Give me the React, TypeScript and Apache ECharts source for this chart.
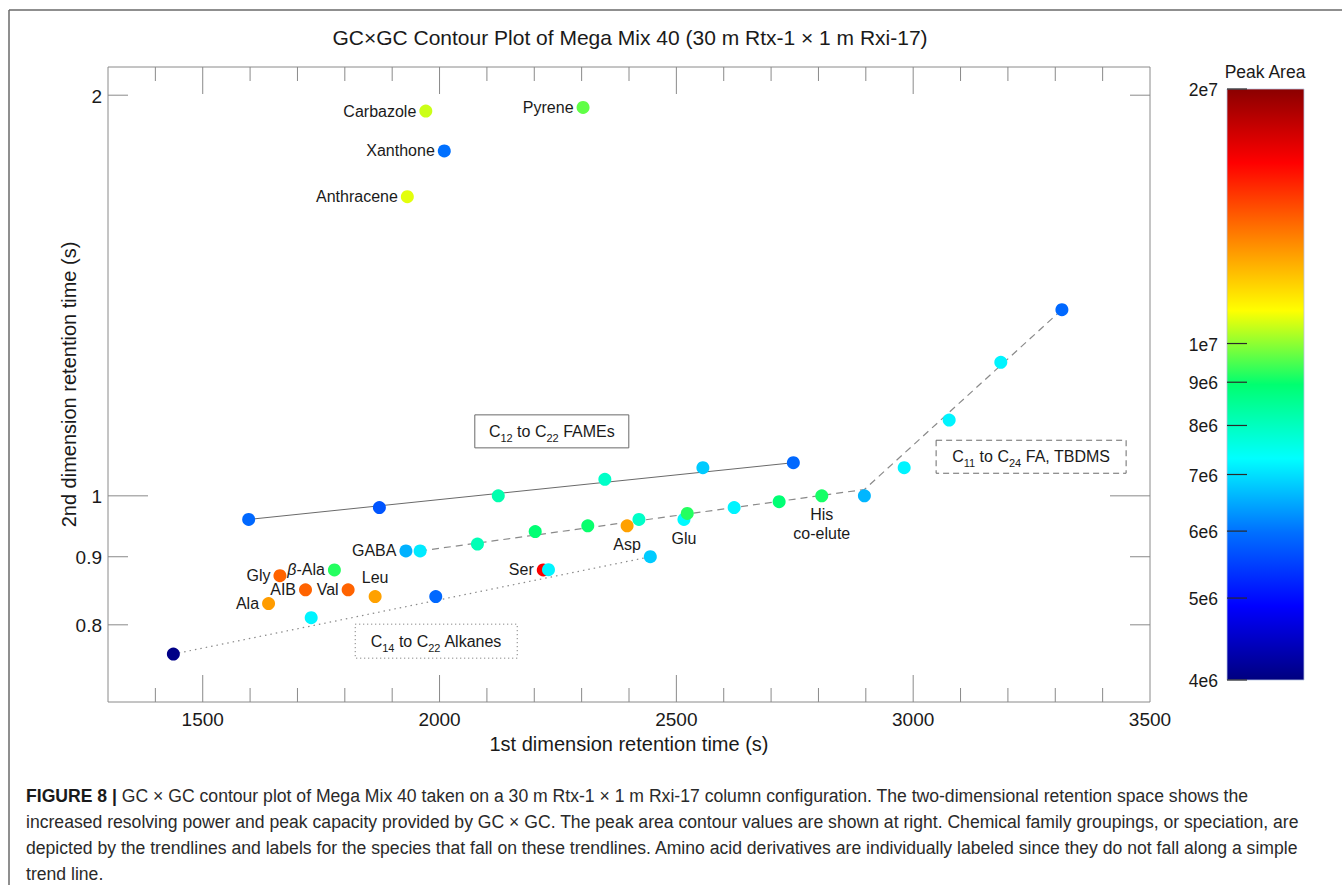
import React, { useEffect, useRef } from "react";
import * as echarts from "echarts";

const FONT = "'Liberation Sans', Arial, Helvetica, sans-serif";
const TXT = "#1a1a1a";
const TICK = "#8a8a8a";

// ---- axis ranges & ticks ----
const X_MIN = 1300;
const X_MAX = 3500;
const Y_MIN = 0.7;
const Y_MAX = 2.1;
const xMajorTicks = [1500, 2000, 2500, 3000, 3500];
const yTickValues = [0.8, 0.9, 1, 2];
const yTickLabels = ["0.8", "0.9", "1", "2"];
const yMajorTicks = [1];

// ---- colour bar ----
const CB_MIN = 4e6;
const CB_MAX = 2e7;
const cbTickValues = [4e6, 5e6, 6e6, 7e6, 8e6, 9e6, 1e7, 2e7];
const cbTickLabels = ["4e6", "5e6", "6e6", "7e6", "8e6", "9e6", "1e7", "2e7"];
const jetColors = ["#00007f", "#0000ff", "#0070ff", "#00ffff", "#00ff70", "#ffff00", "#ff8000", "#ff0000", "#8b0000"];

// ---- aromatics ----
const aromaticNames = ["Carbazole", "Pyrene", "Xanthone", "Anthracene"];
const aromaticX = [1971, 2303, 2010, 1932];
const aromaticY = [1.946, 1.958, 1.816, 1.678];
const aromaticArea = [1.05e7, 9.65e6, 5.98e6, 1.07e7];

// ---- FAMEs ----
const fameX = [1597, 1873, 2124, 2349, 2556, 2747];
const fameY = [0.96, 0.98, 1.0, 1.029, 1.05, 1.059];
const fameArea = [5.9e6, 5.7e6, 8.2e6, 7.9e6, 6.8e6, 5.9e6];

// ---- FA, TBDMS ----
const faX = [1959, 2080, 2202, 2313, 2421, 2523, 2622, 2717, 2807, 2897, 2981, 3076, 3185, 3314];
const faY = [0.909, 0.92, 0.94, 0.9495, 0.96, 0.97, 0.98, 0.99, 1.0, 1.0, 1.05, 1.14, 1.26, 1.38];
const faArea = [7.1e6, 8.1e6, 8.9e6, 9.0e6, 7.9e6, 9.2e6, 7.2e6, 8.9e6, 9.1e6, 6.6e6, 7.2e6, 7.2e6, 7.2e6, 5.9e6];
const faLabels = ["", "", "", "", "", "", "", "", "His\nco-elute", "", "", "", "", ""];

// ---- alkanes ----
const alkaneX = [1438, 1729, 1992, 2230, 2445];
const alkaneY = [0.7605, 0.81, 0.84, 0.88, 0.9];
const alkaneArea = [4.05e6, 7.2e6, 5.9e6, 7.2e6, 6.8e6];

// ---- amino acids ----
const aminoNames = ["Gly", "{i|β}-Ala", "AIB", "Val", "Leu", "Ala", "GABA", "Ser", "Asp", "Glu"];
const aminoX = [1663, 1778, 1717, 1807, 1864, 1639, 1929, 2219, 2396, 2516];
const aminoY = [0.871, 0.8796, 0.85, 0.85, 0.84, 0.83, 0.909, 0.8796, 0.9495, 0.96];
const aminoArea = [1.4e7, 9.2e6, 1.4e7, 1.4e7, 1.27e7, 1.28e7, 6.55e6, 1.64e7, 1.27e7, 7.26e6];
const aminoLabelPos = ["left", "left", "left", "left", "top", "left", "left", "left", "bottom", "bottom"];

// ---- trend lines ----
const fameTrend = [[1597, 0.96], [2747, 1.059]];
const faTrend = [[1959, 0.909], [2897, 1.011], [3314, 1.38]];
const alkaneTrend = [[1438, 0.7605], [2445, 0.9]];

// ---- annotation boxes ----
const boxTexts = ["C{s|12} to C{s|22} FAMEs", "C{s|11} to C{s|24} FA, TBDMS", "C{s|14} to C{s|22} Alkanes"];
const boxX = [2237, 3249, 1993];
const boxY = [1.118, 1.07, 0.7777];
const boxW = [154, 190, 162];
const boxH = [33, 33, 34];
const boxDash: (number[] | null)[] = [null, [6, 4], [1, 3]];

// ---- caption ----
const captionLines = [
  "{b|FIGURE 8 |} GC × GC contour plot of Mega Mix 40 taken on a 30 m Rtx-1 × 1 m Rxi-17 column configuration. The two-dimensional retention space shows the",
  "increased resolving power and peak capacity provided by GC × GC. The peak area contour values are shown at right. Chemical family groupings, or speciation, are",
  "depicted by the trendlines and labels for the species that fall on these trendlines. Amino acid derivatives are individually labeled since they do not fall along a simple",
  "trend line.",
];

const labelBase = { color: TXT, fontSize: 16, fontFamily: FONT };

function scatterData(xs: number[], ys: number[], areas: number[], labels?: string[], pos?: string[]) {
  return xs.map((x, i) => {
    const item: any = { value: [x, ys[i], Math.log10(areas[i])] };
    if (labels && labels[i]) {
      item.label = {
        show: true,
        formatter: labels[i],
        position: pos ? pos[i] : "left",
        distance: 3,
        ...labelBase,
        lineHeight: 19,
        align: pos && (pos[i] === "top" || pos[i] === "bottom") ? "center" : undefined,
        rich: { i: { ...labelBase, fontStyle: "italic" } },
      };
    }
    return item;
  });
}

export default function App() {
  const ref = useRef<HTMLDivElement>(null);
  useEffect(() => {
    document.body.style.margin = "0";
    if (!ref.current) return;
    const chart = echarts.init(ref.current, undefined, { renderer: "svg" });

    const xMinor: number[] = [];
    for (let v = X_MIN + 100; v < X_MAX; v += 100) xMinor.push(v);

    const scatterCommon = {
      type: "scatter",
      symbolSize: 13,
      xAxisIndex: 0,
      yAxisIndex: 0,
      itemStyle: { opacity: 1 },
    };
    const lineCommon = {
      type: "line",
      xAxisIndex: 0,
      yAxisIndex: 0,
      symbol: "none",
      silent: true,
      z: 1,
    };

    const series: any[] = [
      { ...lineCommon, data: fameTrend, lineStyle: { color: "#6a6a6a", width: 1, type: "solid" } },
      { ...lineCommon, data: faTrend, lineStyle: { color: "#8a8a8a", width: 1.2, type: [7, 5] } },
      { ...lineCommon, data: alkaneTrend, lineStyle: { color: "#8a8a8a", width: 1.2, type: [1.5, 4] } },
      { ...scatterCommon, name: "Amino acids", data: scatterData(aminoX, aminoY, aminoArea, aminoNames, aminoLabelPos) },
      { ...scatterCommon, name: "Alkanes", data: scatterData(alkaneX, alkaneY, alkaneArea) },
      { ...scatterCommon, name: "FA TBDMS", data: scatterData(faX, faY, faArea, faLabels, faLabels.map(() => "bottom")) },
      { ...scatterCommon, name: "FAMEs", data: scatterData(fameX, fameY, fameArea) },
      { ...scatterCommon, name: "Aromatics", data: scatterData(aromaticX, aromaticY, aromaticArea, aromaticNames) },
    ];
    const scatterIdx = [3, 4, 5, 6, 7];

    // x ticks (bottom + top)
    series.push({
      type: "custom",
      xAxisIndex: 0,
      yAxisIndex: 0,
      silent: true,
      z: 5,
      data: xMinor.map((v) => [v, Y_MIN]),
      renderItem: (_p: any, api: any) => {
        const v = api.value(0);
        const len = xMajorTicks.indexOf(v) >= 0 ? 27 : 14;
        const b = api.coord([v, Y_MIN]);
        const t = api.coord([v, Y_MAX]);
        return {
          type: "group",
          children: [
            { type: "line", shape: { x1: b[0], y1: b[1], x2: b[0], y2: b[1] - len }, style: { stroke: TICK, lineWidth: 1 } },
            { type: "line", shape: { x1: t[0], y1: t[1], x2: t[0], y2: t[1] + len }, style: { stroke: TICK, lineWidth: 1 } },
          ],
        };
      },
    });

    // y ticks (left + right) with labels
    series.push({
      type: "custom",
      xAxisIndex: 0,
      yAxisIndex: 0,
      silent: true,
      z: 5,
      data: yTickValues.map((v) => [X_MIN, v]),
      renderItem: (p: any, api: any) => {
        const v = api.value(1);
        const len = yMajorTicks.indexOf(v) >= 0 ? 40 : 20;
        const l = api.coord([X_MIN, v]);
        const r = api.coord([X_MAX, v]);
        return {
          type: "group",
          children: [
            { type: "line", shape: { x1: l[0], y1: l[1], x2: l[0] + len, y2: l[1] }, style: { stroke: TICK, lineWidth: 1 } },
            { type: "line", shape: { x1: r[0], y1: r[1], x2: r[0] - len, y2: r[1] }, style: { stroke: TICK, lineWidth: 1 } },
            {
              type: "text",
              x: l[0] - 6,
              y: l[1] + 1,
              style: { text: yTickLabels[p.dataIndex], align: "right", verticalAlign: "middle", fontSize: 19, fontFamily: FONT, fill: TXT },
            },
          ],
        };
      },
    });

    // annotation boxes
    series.push({
      type: "custom",
      xAxisIndex: 0,
      yAxisIndex: 0,
      silent: true,
      z: 6,
      data: boxX.map((x, i) => [x, boxY[i]]),
      renderItem: (p: any, api: any) => {
        const i = p.dataIndex;
        const c = api.coord([api.value(0), api.value(1)]);
        return {
          type: "group",
          children: [
            {
              type: "rect",
              shape: { x: c[0] - boxW[i] / 2, y: c[1] - boxH[i] / 2, width: boxW[i], height: boxH[i] },
              style: { fill: "none", stroke: "#6a6a6a", lineWidth: 1, lineDash: boxDash[i] || undefined },
            },
            {
              type: "text",
              x: c[0],
              y: c[1],
              style: {
                text: boxTexts[i],
                align: "center",
                verticalAlign: "middle",
                fontSize: 16,
                fontFamily: FONT,
                fill: TXT,
                lineHeight: 24,
                rich: {
                  s: { fontSize: 11, fontFamily: FONT, fill: TXT, verticalAlign: "bottom", lineHeight: 14 },
                },
              },
            },
          ],
        };
      },
    });

    // colour bar
    const stops = jetColors.map((c, i) => ({ offset: i / (jetColors.length - 1), color: c }));
    series.push({
      type: "custom",
      xAxisIndex: 1,
      yAxisIndex: 1,
      silent: true,
      z: 2,
      data: [[0, CB_MAX]],
      renderItem: (_p: any, api: any) => {
        const t = api.coord([0, CB_MAX]);
        const b = api.coord([1, CB_MIN]);
        return {
          type: "rect",
          shape: { x: t[0], y: t[1], width: b[0] - t[0], height: b[1] - t[1] },
          style: { fill: new echarts.graphic.LinearGradient(0, 1, 0, 0, stops), stroke: "#b8c4e0", lineWidth: 0.8 },
        };
      },
    });
    series.push({
      type: "custom",
      xAxisIndex: 1,
      yAxisIndex: 1,
      silent: true,
      z: 3,
      data: cbTickValues.map((v) => [0, v]),
      renderItem: (p: any, api: any) => {
        const l = api.coord([0, api.value(1)]);
        return {
          type: "group",
          children: [
            { type: "line", shape: { x1: l[0], y1: l[1], x2: l[0] + 20, y2: l[1] }, style: { stroke: "#2a2a2a", lineWidth: 1.2 } },
            {
              type: "text",
              x: l[0] - 9,
              y: l[1] + 1,
              style: { text: cbTickLabels[p.dataIndex], align: "right", verticalAlign: "middle", fontSize: 17.5, fontFamily: FONT, fill: TXT },
            },
          ],
        };
      },
    });

    const captionY = [796, 822, 848, 874];

    chart.setOption({
      animation: false,
      backgroundColor: "#ffffff",
      textStyle: { fontFamily: FONT },
      grid: [
        { left: 108, top: 67, width: 1042, height: 635, show: true, borderColor: "#8a8a8a", borderWidth: 1, backgroundColor: "transparent" },
        { left: 1227, top: 89, width: 77, height: 591, show: false },
      ],
      xAxis: [
        {
          type: "value",
          gridIndex: 0,
          min: X_MIN,
          max: X_MAX,
          interval: 100,
          axisLine: { show: false },
          axisTick: { show: false },
          splitLine: { show: false },
          axisLabel: {
            margin: 8,
            fontSize: 19,
            color: TXT,
            fontFamily: FONT,
            formatter: (v: number) => (xMajorTicks.indexOf(v) >= 0 ? String(v) : ""),
          },
          name: "1st dimension retention time (s)",
          nameLocation: "middle",
          nameGap: 26,
          nameTextStyle: { fontSize: 20, color: TXT, fontFamily: FONT },
        },
        { type: "value", gridIndex: 1, min: 0, max: 1, show: false },
      ],
      yAxis: [
        {
          type: "log",
          logBase: 10,
          gridIndex: 0,
          min: Y_MIN,
          max: Y_MAX,
          axisLine: { show: false },
          axisTick: { show: false },
          axisLabel: { show: false },
          splitLine: { show: false },
          minorTick: { show: false },
          name: "2nd dimension retention time (s)",
          nameLocation: "middle",
          nameRotate: 90,
          nameGap: 29,
          nameTextStyle: { fontSize: 20, color: TXT, fontFamily: FONT },
        },
        { type: "log", logBase: 10, gridIndex: 1, min: CB_MIN, max: CB_MAX, show: false },
      ],
      visualMap: {
        type: "continuous",
        show: false,
        seriesIndex: scatterIdx,
        dimension: 2,
        min: Math.log10(CB_MIN),
        max: Math.log10(CB_MAX),
        inRange: { color: jetColors },
      },
      graphic: [
        { type: "line", shape: { x1: 9, y1: 10, x2: 1342, y2: 10 }, style: { stroke: "#6a6a6a", lineWidth: 1.5 } },
        { type: "line", shape: { x1: 9, y1: 10, x2: 9, y2: 885 }, style: { stroke: "#6a6a6a", lineWidth: 1.5 } },
        {
          type: "text",
          x: 630,
          y: 37,
          style: {
            text: "GC×GC Contour Plot of Mega Mix 40 (30 m Rtx-1 × 1 m Rxi-17)",
            align: "center",
            verticalAlign: "middle",
            fontSize: 21,
            fontFamily: FONT,
            fill: TXT,
          },
        },
        {
          type: "text",
          x: 1265,
          y: 72,
          style: { text: "Peak Area", align: "center", verticalAlign: "middle", fontSize: 17.5, fontFamily: FONT, fill: TXT },
        },
        ...captionLines.map((t, i) => ({
          type: "text",
          x: 26,
          y: captionY[i],
          style: {
            text: t,
            align: "left",
            verticalAlign: "middle",
            fontSize: 17.6,
            fontFamily: FONT,
            fill: "#2a2a2a",
            rich: { b: { fontSize: 17.6, fontFamily: FONT, fontWeight: "bold", fill: "#1a1a1a" } },
          },
        })),
      ],
      series,
    });
    return () => chart.dispose();
  }, []);
  return <div ref={ref} style={{ width: 1342, height: 885 }} />;
}
